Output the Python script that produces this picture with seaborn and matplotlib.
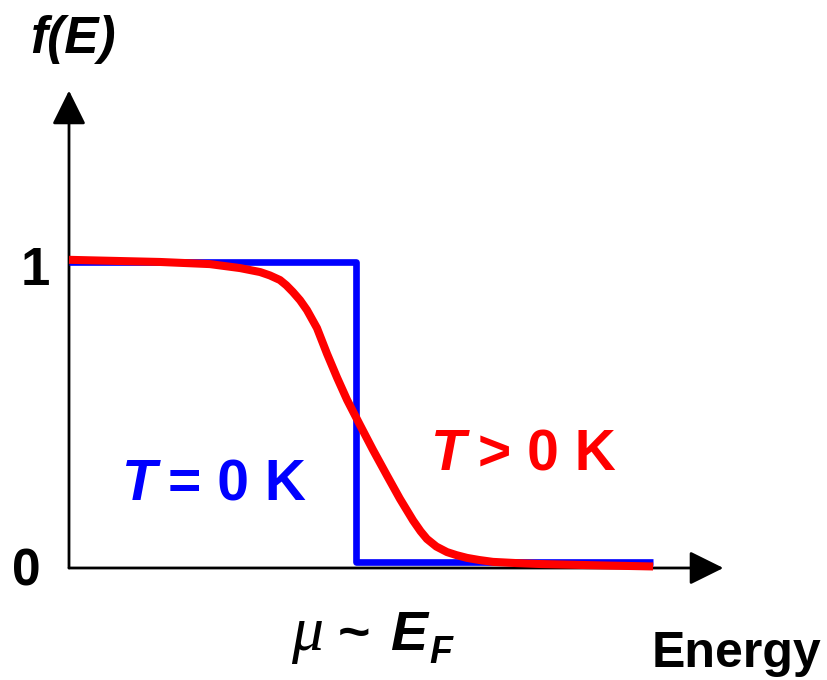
import numpy as np
import pandas as pd
import matplotlib
matplotlib.use("Agg")
import matplotlib.pyplot as plt
import seaborn as sns

# =====================================================
# DATA (energy in units of mu, occupation f(E))
# =====================================================

# T = 0 K : step at mu
step_energy = [0.0, 1.0, 1.0, 2.035]
step_occupation = [1.0, 1.0, 0.02, 0.02]

# T > 0 K : smeared curve
warm_energy = [0.0, 0.317, 0.491, 0.596, 0.666, 0.700, 0.735, 0.757, 0.780,
               0.805, 0.829, 0.864, 0.899, 0.934, 0.969, 1.014, 1.059, 1.108,
               1.153, 1.199, 1.225, 1.247, 1.280, 1.317, 1.350, 1.387, 1.430,
               1.477, 1.560, 1.641, 1.875, 2.035]
warm_occupation = [1.007, 1.000, 0.993, 0.980, 0.967, 0.956, 0.941, 0.924, 0.902,
                   0.875, 0.843, 0.784, 0.700, 0.622, 0.549, 0.467, 0.386, 0.302,
                   0.226, 0.155, 0.120, 0.095, 0.070, 0.052, 0.042, 0.033, 0.026,
                   0.020, 0.016, 0.013, 0.008, 0.005]

BLUE = "#0000ff"
RED = "#ff0000"

step_df = pd.DataFrame({"E": step_energy, "f": step_occupation})
warm_df = pd.DataFrame({"E": warm_energy, "f": warm_occupation})

# =====================================================
# FIGURE
# =====================================================

sns.set_theme(style="white")
plt.rcParams["font.family"] = ["Liberation Sans", "DejaVu Sans"]
plt.rcParams["text.color"] = "black"

fig = plt.figure(figsize=(8.27, 6.8), dpi=100)
ax = fig.add_axes([0, 0, 1, 1])
ax.set_xlim(-0.2404, 2.641)
ax.set_ylim(-0.366, 1.856)
ax.axis("off")

# axes with arrow heads
arrow = dict(arrowstyle="-|>,head_length=1.05,head_width=0.52",
             mutation_scale=20, color="black", lw=2.0, shrinkA=0, shrinkB=0)
ax.annotate("", xy=(2.28, 0), xytext=(0, 0), arrowprops=arrow, zorder=1)
ax.annotate("", xy=(0, 1.56), xytext=(0, 0), arrowprops=arrow, zorder=1)

sns.lineplot(data=step_df, x="E", y="f", ax=ax, color=BLUE, lw=4.8,
             estimator=None, sort=False, solid_capstyle="butt", zorder=2)
sns.lineplot(data=warm_df, x="E", y="f", ax=ax, color=RED, lw=5.8,
             estimator=None, sort=False, solid_capstyle="butt",
             solid_joinstyle="round", zorder=3)

# tick labels
ax.text(-0.118, 0.925, "1", fontsize=38, fontweight="bold", ha="center", va="baseline")
ax.text(-0.150, -0.056, "0", fontsize=37, fontweight="bold", ha="center", va="baseline")

# axis labels
ax.text(-0.136, 1.683, "f(E)", fontsize=37, fontweight="bold", fontstyle="italic",
        ha="left", va="baseline")
ax.text(2.030, -0.324, "Energy", fontsize=36, fontweight="bold", ha="left", va="baseline")

ax.text(0.775, -0.268, "μ", fontsize=46, fontstyle="italic", family="Liberation Serif",
        ha="left", va="baseline")
ax.text(0.935, -0.268, "~", fontsize=40, fontweight="bold", ha="left", va="baseline")
ax.text(1.118, -0.268, "E", fontsize=40, fontweight="bold", fontstyle="italic",
        ha="left", va="baseline")
ax.text(1.255, -0.310, "F", fontsize=27, fontweight="bold", fontstyle="italic",
        ha="left", va="baseline")

# curve labels
ax.text(0.185, 0.222, "T", fontsize=41, fontweight="bold", fontstyle="italic",
        color=BLUE, ha="left", va="baseline")
ax.text(0.345, 0.222, "= 0 K", fontsize=41, fontweight="bold",
        color=BLUE, ha="left", va="baseline")
ax.text(1.261, 0.320, "T", fontsize=41, fontweight="bold", fontstyle="italic",
        color=RED, ha="left", va="baseline")
ax.text(1.425, 0.320, "> 0 K", fontsize=41, fontweight="bold",
        color=RED, ha="left", va="baseline")

fig.savefig("out.png", dpi=100)
